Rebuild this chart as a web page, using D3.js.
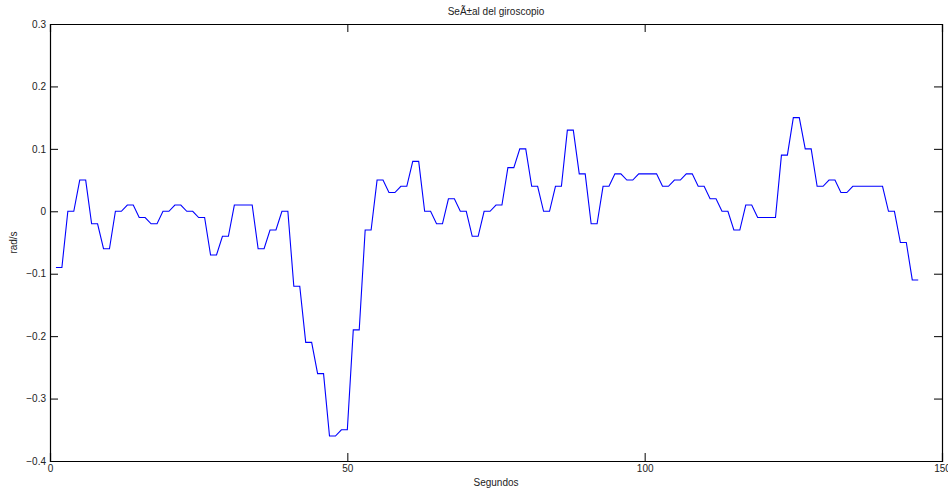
<!DOCTYPE html>
<html>
<head>
<meta charset="utf-8">
<script src="https://cdn.jsdelivr.net/npm/d3@7"></script>
<style>
  body { margin: 0; background: #fff; }
  svg text { font-family: "Liberation Sans", Arial, Helvetica, sans-serif; fill: #222; }
</style>
</head>
<body>
<div id="chart"></div>
<script>
// gyroscope reading, one sample per second (rad/s)
const gyroValues = [
  -0.09, -0.09, 0, 0, 0.05, 0.05, -0.02, -0.02, -0.06, -0.06,
  0, 0, 0.01, 0.01, -0.01, -0.01, -0.02, -0.02, 0, 0,
  0.01, 0.01, 0, 0, -0.01, -0.01, -0.07, -0.07, -0.04, -0.04,
  0.01, 0.01, 0.01, 0.01, -0.06, -0.06, -0.03, -0.03, 0, 0,
  -0.12, -0.12, -0.21, -0.21, -0.26, -0.26, -0.36, -0.36, -0.35, -0.35,
  -0.19, -0.19, -0.03, -0.03, 0.05, 0.05, 0.03, 0.03, 0.04, 0.04,
  0.08, 0.08, 0, 0, -0.02, -0.02, 0.02, 0.02, 0, 0,
  -0.04, -0.04, 0, 0, 0.01, 0.01, 0.07, 0.07, 0.10, 0.10,
  0.04, 0.04, 0, 0, 0.04, 0.04, 0.13, 0.13, 0.06, 0.06,
  -0.02, -0.02, 0.04, 0.04, 0.06, 0.06, 0.05, 0.05, 0.06, 0.06,
  0.06, 0.06, 0.04, 0.04, 0.05, 0.05, 0.06, 0.06, 0.04, 0.04,
  0.02, 0.02, 0, 0, -0.03, -0.03, 0.01, 0.01, -0.01, -0.01,
  -0.01, -0.01, 0.09, 0.09, 0.15, 0.15, 0.10, 0.10, 0.04, 0.04,
  0.05, 0.05, 0.03, 0.03, 0.04, 0.04, 0.04, 0.04, 0.04, 0.04,
  0, 0, -0.05, -0.05, -0.11, -0.11
];

const xTicks = [0, 50, 100, 150];
const yTicks = [-0.4, -0.3, -0.2, -0.1, 0, 0.1, 0.2, 0.3];

const titleText = 'SeÃ±al del giroscopio';
const xLabel = 'Segundos';
const yLabel = 'rad/s';

const width = 948, height = 493;
const margin = { top: 24, right: 6, bottom: 32, left: 50 };
const innerW = width - margin.left - margin.right;
const innerH = height - margin.top - margin.bottom;
const tickLen = 8;

const x = d3.scaleLinear().domain([0, 150]).range([0, innerW]);
const y = d3.scaleLinear().domain([-0.4, 0.3]).range([innerH, 0]);

const svg = d3.select('#chart')
  .append('svg')
    .attr('width', width)
    .attr('height', height);

const g = svg.append('g')
  .attr('transform', `translate(${margin.left},${margin.top})`);

const fmtY = d3.format('.1f');
const fmtYTick = v => v === 0 ? '0' : fmtY(v);

// axes, MATLAB style: ticks pointing inwards, mirrored on the box
g.append('g')
  .attr('transform', `translate(0,${innerH})`)
  .call(d3.axisBottom(x).tickValues(xTicks).tickSize(-tickLen).tickPadding(4).tickFormat(d3.format('d')));
g.append('g')
  .call(d3.axisTop(x).tickValues(xTicks).tickSize(-tickLen).tickFormat(''));
g.append('g')
  .call(d3.axisLeft(y).tickValues(yTicks).tickSize(-tickLen).tickPadding(4).tickFormat(fmtYTick));
g.append('g')
  .attr('transform', `translate(${innerW},0)`)
  .call(d3.axisRight(y).tickValues(yTicks).tickSize(-tickLen).tickFormat(''));

g.selectAll('.domain').attr('stroke', '#000').attr('stroke-width', 1.2);
g.selectAll('.tick line').attr('stroke', '#000');
g.selectAll('.tick text').attr('font-size', 10).attr('fill', '#222');

const line = d3.line()
  .x((d, i) => x(i + 1))
  .y(d => y(d));

g.append('path')
  .datum(gyroValues)
  .attr('fill', 'none')
  .attr('stroke', '#0000ff')
  .attr('stroke-width', 1.1)
  .attr('d', line);

svg.append('text')
  .attr('x', margin.left + innerW / 2)
  .attr('y', 15)
  .attr('text-anchor', 'middle')
  .attr('font-size', 10)
  .text(titleText);

svg.append('text')
  .attr('x', margin.left + innerW / 2)
  .attr('y', 486)
  .attr('text-anchor', 'middle')
  .attr('font-size', 10)
  .text(xLabel);

svg.append('text')
  .attr('transform', `translate(17,${margin.top + innerH / 2}) rotate(-90)`)
  .attr('text-anchor', 'middle')
  .attr('font-size', 10)
  .text(yLabel);
</script>
</body>
</html>
